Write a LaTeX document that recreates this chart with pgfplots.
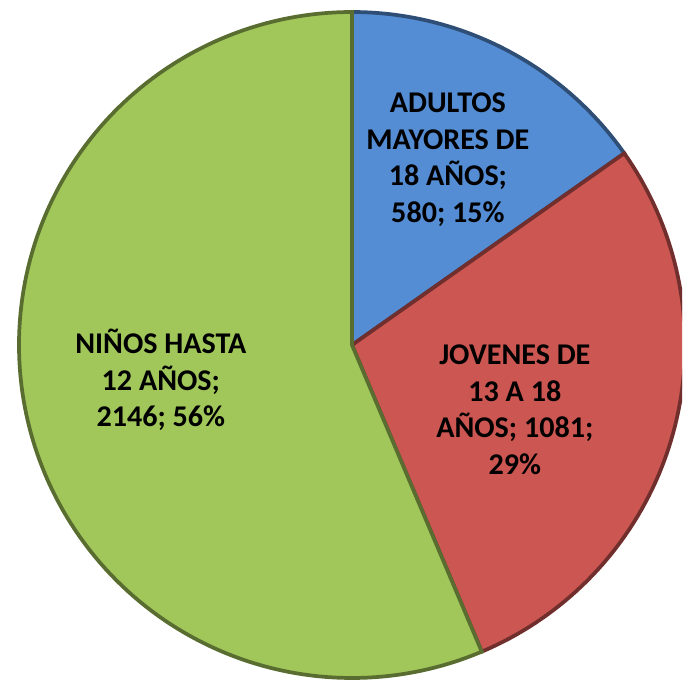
\documentclass[border=0pt]{standalone}
\usepackage{pgfplots}
\pgfplotsset{compat=1.18}
\usepackage{fontspec}
\setmainfont{Carlito}
\definecolor{cblue}{RGB}{84,141,212}
\definecolor{cred}{RGB}{204,86,82}
\definecolor{cgreen}{RGB}{161,199,90}
% values
\def\vA{580}  % ADULTOS MAYORES DE 18 AÑOS
\def\vB{1081} % JOVENES DE 13 A 18 AÑOS
\def\vC{2146} % NIÑOS HASTA 12 AÑOS
\pgfmathsetmacro\tot{\vA+\vB+\vC}
\pgfmathsetmacro\aA{90}
\pgfmathsetmacro\aB{\aA-360*(\vA/\tot)}
\pgfmathsetmacro\aC{\aB-360*(\vB/\tot)}
\pgfmathsetmacro\aD{\aC-360*(\vC/\tot)}
\begin{document}
\begin{tikzpicture}
\begin{axis}[
  width=9cm, height=9.013cm, scale only axis,
  xmin=-1.057, xmax=0.991, ymin=-1.015, ymax=1.036,
  hide axis, clip=true,
]
\path (rel axis cs:0,0) rectangle (rel axis cs:1,1);
\addplot[fill=cblue, draw=cblue!55!black, line width=1.4pt, domain=\aB:\aA, samples=60]
  ({cos(x)},{sin(x)}) -- (axis cs:0,0) -- cycle;
\addplot[fill=cred, draw=cred!55!black, line width=1.4pt, domain=\aC:\aB, samples=80]
  ({cos(x)},{sin(x)}) -- (axis cs:0,0) -- cycle;
\addplot[fill=cgreen, draw=cgreen!55!black, line width=1.4pt, domain=\aD:\aC, samples=150]
  ({cos(x)},{sin(x)}) -- (axis cs:0,0) -- cycle;
\tikzset{lab/.style={align=center, font=\fontsize{11.3}{13.7}\selectfont\bfseries, text=black}}
\node[lab] at (axis cs:0.288,0.556) {ADULTOS\\MAYORES DE\\18 AÑOS;\\580; 15\%};
\node[lab] at (axis cs:0.489,-0.195) {JOVENES DE\\13 A 18\\AÑOS; 1081;\\29\%};
\node[lab] at (axis cs:-0.574,-0.105) {NIÑOS HASTA\\12 AÑOS;\\2146; 56\%};
\end{axis}
\end{tikzpicture}
\end{document}
